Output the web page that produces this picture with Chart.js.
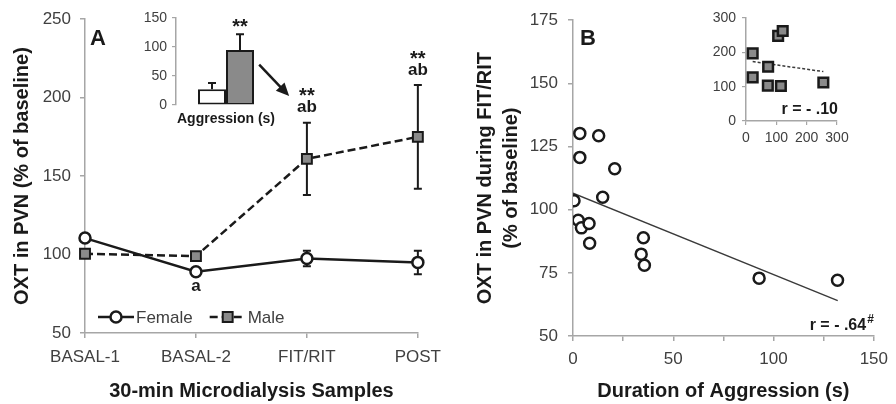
<!DOCTYPE html>
<html>
<head>
<meta charset="utf-8">
<script src="https://cdn.jsdelivr.net/npm/chart.js@4.4.0/dist/chart.umd.min.js"></script>
<style>
  body { margin: 0; background: #fff; width: 896px; height: 404px; position: relative; overflow: hidden; }
  canvas { position: absolute; top: 0; }
</style>
</head>
<body>
<canvas id="cA" width="450" height="404" style="left:0px"></canvas>
<canvas id="cAi" width="170" height="135" style="left:120px"></canvas>
<canvas id="cB" width="446" height="404" style="left:450px"></canvas>
<canvas id="cBi" width="170" height="160" style="left:690px"></canvas>
<script>
// Panel A: OXT in PVN per 30-min sample (% of baseline), mean +/- SEM
const samples = ['BASAL-1', 'BASAL-2', 'FIT/RIT', 'POST'];
const femaleOxt = [110.5, 89, 97.5, 95];
const femaleSem = [2, 2, 5, 7.5];
const maleOxt = [100.5, 99, 161, 175];
const maleSem = [2, 2, 23, 33];
const femaleMarks = ['', 'a', '', ''];
const maleMarks = ['', '', 'ab', 'ab'];
const maleStars = ['', '', '**', '**'];

// Panel A inset: duration of aggression (s)
const aggrGroups = ['Female', 'Male'];
const aggrMean = [27, 95];
const aggrSem = [11, 27];

// Panel B: females, aggression duration vs OXT during FIT/RIT
const femaleAggr = [3.4, 12.8, 3.4, 20.8, 0.5, 14.8, 2.6, 4.2, 8, 8.3, 35.1, 34, 35.6, 92.8, 131.9];
const femaleFitOxt = [130.2, 129.3, 120.7, 116.2, 103.5, 104.9, 95.8, 92.8, 94.5, 86.7, 88.9, 82.4, 78, 72.9, 72.1];
const femaleFitX = [0, 132];
const femaleFitY = [106.5, 64];

// Panel B inset: males
const maleAggr = [22, 22, 73, 72, 115, 106, 121, 255];
const maleFitOxt = [197, 127, 158, 103, 102, 248, 262, 112];
const maleFitX = [22, 255];
const maleFitY = [173, 144];

// arrow from inset to FIT/RIT (panel A data units)
const arrowFrom = [1.57, 221];
const arrowTo = [1.84, 201];

const FONT = 'Arial, "Liberation Sans", Helvetica, sans-serif';
const AXIS = '#a6a6a6';
const INK = '#1a1a1a';
const LABEL = '#404040';
const GREY = '#8a8a8a';

Chart.defaults.font.family = FONT;
Chart.defaults.color = LABEL;
Chart.defaults.animation = false;
Chart.defaults.plugins.legend.display = false;
Chart.defaults.plugins.tooltip.enabled = false;

function text(ctx, s, x, y, font, align, color) {
  ctx.save();
  ctx.font = font;
  ctx.fillStyle = color || INK;
  ctx.textAlign = align || 'center';
  ctx.textBaseline = 'middle';
  ctx.fillText(s, x, y);
  ctx.restore();
}

function marker(ctx, ds, x, y) {
  ctx.save();
  ctx.fillStyle = ds.pointBackgroundColor;
  ctx.strokeStyle = ds.pointBorderColor;
  ctx.lineWidth = ds.pointBorderWidth;
  ctx.beginPath();
  if (ds.pointStyle === 'rect') {
    const h = Math.SQRT1_2 * ds.pointRadius;
    ctx.rect(x - h, y - h, 2 * h, 2 * h);
  } else {
    ctx.arc(x, y, ds.pointRadius, 0, Math.PI * 2);
  }
  ctx.fill();
  ctx.stroke();
  ctx.restore();
}

// error bars from dataset.sem
function drawErrors(chart) {
  const ctx = chart.ctx;
  chart.data.datasets.forEach((ds, i) => {
    if (!ds.sem) return;
    const meta = chart.getDatasetMeta(i);
    const ys = chart.scales[meta.yAxisID];
    meta.data.forEach((el, j) => {
      const top = ys.getPixelForValue(ds.data[j] + ds.sem[j]);
      const bot = ds.upOnly ? ys.getPixelForValue(ds.data[j]) : ys.getPixelForValue(ds.data[j] - ds.sem[j]);
      ctx.save();
      ctx.strokeStyle = INK;
      ctx.lineWidth = 2;
      ctx.beginPath();
      ctx.moveTo(el.x, top); ctx.lineTo(el.x, bot);
      ctx.moveTo(el.x - 4, top); ctx.lineTo(el.x + 4, top);
      if (!ds.upOnly) { ctx.moveTo(el.x - 4, bot); ctx.lineTo(el.x + 4, bot); }
      ctx.stroke();
      ctx.restore();
    });
  });
}
const errorsBelow = { id: 'errorsBelow', beforeDatasetsDraw: drawErrors };
const errorsAbove = { id: 'errorsAbove', afterDatasetsDraw: drawErrors };

const panelANotes = {
  id: 'panelANotes',
  afterDatasetsDraw(chart) {
    const { ctx, chartArea: area, scales: { x, y } } = chart;
    const [female, male] = chart.data.datasets;
    text(ctx, 'A', area.left + 5, area.top + 20, 'bold 22px ' + FONT, 'left');

    samples.forEach((s, i) => {
      const px = x.getPixelForValue(i);
      const top = y.getPixelForValue(maleOxt[i] + maleSem[i]);
      if (maleMarks[i]) text(ctx, maleMarks[i], px, top - 15, 'bold 17px ' + FONT);
      if (maleStars[i]) text(ctx, maleStars[i], px, top - 26, 'bold 20px ' + FONT);
      if (femaleMarks[i]) text(ctx, femaleMarks[i], px, y.getPixelForValue(femaleOxt[i]) + 15, 'bold 17px ' + FONT);
    });

    // arrow
    const x0 = x.getPixelForValue(arrowFrom[0]), y0 = y.getPixelForValue(arrowFrom[1]);
    const x1 = x.getPixelForValue(arrowTo[0]), y1 = y.getPixelForValue(arrowTo[1]);
    const ang = Math.atan2(y1 - y0, x1 - x0);
    ctx.save();
    ctx.strokeStyle = INK; ctx.fillStyle = INK; ctx.lineWidth = 2.5;
    ctx.beginPath();
    ctx.moveTo(x0, y0);
    ctx.lineTo(x1 - 10 * Math.cos(ang), y1 - 10 * Math.sin(ang));
    ctx.stroke();
    ctx.beginPath();
    ctx.moveTo(x1, y1);
    ctx.lineTo(x1 - 13 * Math.cos(ang) + 6 * Math.sin(ang), y1 - 13 * Math.sin(ang) - 6 * Math.cos(ang));
    ctx.lineTo(x1 - 13 * Math.cos(ang) - 6 * Math.sin(ang), y1 - 13 * Math.sin(ang) + 6 * Math.cos(ang));
    ctx.closePath();
    ctx.fill();
    ctx.restore();

    // legend inside plot, bottom left
    let lx = area.left + 13;
    const ly = area.bottom - 16;
    [female, male].forEach(ds => {
      ctx.save();
      ctx.strokeStyle = ds.borderColor; ctx.lineWidth = ds.borderWidth;
      ctx.setLineDash(ds.borderDash || []);
      ctx.beginPath(); ctx.moveTo(lx, ly); ctx.lineTo(lx + 36, ly); ctx.stroke();
      ctx.restore();
      marker(ctx, ds, lx + 18, ly);
      ctx.font = '17px ' + FONT;
      const w = ctx.measureText(ds.label).width;
      text(ctx, ds.label, lx + 38, ly + 1, '17px ' + FONT, 'left', LABEL);
      lx += 38 + w + 17;
    });
  }
};

new Chart(document.getElementById('cA'), {
  type: 'line',
  data: {
    labels: samples,
    datasets: [
      { label: 'Female', data: femaleOxt, sem: femaleSem, borderColor: INK, borderWidth: 2.5,
        pointStyle: 'circle', pointRadius: 5.5, pointBorderWidth: 2.5, pointBackgroundColor: '#fff', pointBorderColor: INK },
      { label: 'Male', data: maleOxt, sem: maleSem, borderColor: INK, borderWidth: 2.5, borderDash: [8, 4],
        pointStyle: 'rect', pointRadius: 7, pointBorderWidth: 2, pointBackgroundColor: GREY, pointBorderColor: INK }
    ]
  },
  options: {
    responsive: false,
    layout: { padding: { top: 14, right: 28 } },
    scales: {
      x: {
        grid: { drawOnChartArea: false, tickLength: 5, color: AXIS, lineWidth: 1.5 },
        border: { color: AXIS, width: 1.5 },
        ticks: { padding: 9, font: { size: 17 }, color: LABEL, maxRotation: 0, autoSkip: false },
        title: { display: true, text: '30-min Microdialysis Samples', color: INK,
                 font: { size: 20, weight: 'bold' }, padding: { top: 0, bottom: 1 } },
        afterFit: s => { s.height = 71; }
      },
      y: {
        min: 50, max: 250,
        grid: { drawOnChartArea: false, tickLength: 5, color: AXIS, lineWidth: 1.5 },
        border: { color: AXIS, width: 1.5 },
        ticks: { stepSize: 50, padding: 9, font: { size: 17 }, color: LABEL },
        title: { display: true, text: 'OXT in PVN (% of baseline)', color: INK,
                 font: { size: 20, weight: 'bold' }, padding: { top: 10, bottom: 0 } },
        afterFit: s => { s.width = 85; }
      }
    }
  },
  plugins: [errorsBelow, panelANotes]
});

new Chart(document.getElementById('cAi'), {
  type: 'bar',
  data: {
    labels: ['Aggression (s)'],
    datasets: aggrGroups.map((g, i) => ({
      label: g, data: [aggrMean[i]], sem: [aggrSem[i]], upOnly: true,
      backgroundColor: i === 0 ? '#fff' : GREY, borderColor: INK, borderWidth: 2, borderSkipped: false
    }))
  },
  options: {
    responsive: false,
    layout: { padding: { top: 18, right: 14 } },
    datasets: { bar: { barPercentage: 1, categoryPercentage: 0.56 } },
    scales: {
      x: {
        grid: { display: false }, border: { display: false }, ticks: { display: false },
        title: { display: true, text: 'Aggression (s)', color: INK,
                 font: { size: 14, weight: 'bold' }, padding: { top: 0, bottom: 7 } },
        afterFit: s => { s.height = 30; }
      },
      y: {
        min: 0, max: 150,
        grid: { drawOnChartArea: false, tickLength: 4, color: AXIS, lineWidth: 1.2 },
        border: { color: AXIS, width: 1.5 },
        ticks: { stepSize: 25, padding: 5, font: { size: 14 }, color: LABEL,
                 callback: v => (v % 50 === 0 ? v : '') },
        afterFit: s => { s.width = 56; }
      }
    }
  },
  plugins: [errorsAbove, {
    id: 'insetStars',
    afterDatasetsDraw(chart) {
      const el = chart.getDatasetMeta(1).data[0];
      const top = chart.scales.y.getPixelForValue(aggrMean[1] + aggrSem[1]);
      text(chart.ctx, '**', el.x, top - 7, 'bold 20px ' + FONT);
    }
  }]
});

new Chart(document.getElementById('cB'), {
  type: 'scatter',
  data: {
    datasets: [
      { label: 'Female', order: 1, data: femaleAggr.map((v, i) => ({ x: v, y: femaleFitOxt[i] })),
        pointStyle: 'circle', pointRadius: 5.5, pointBorderWidth: 2.5, pointBackgroundColor: '#fff', pointBorderColor: INK },
      { type: 'line', label: 'fit', order: 2, data: femaleFitX.map((v, i) => ({ x: v, y: femaleFitY[i] })),
        borderColor: '#3a3a3a', borderWidth: 1.4, pointRadius: 0 }
    ]
  },
  options: {
    responsive: false,
    layout: { padding: { top: 15, right: 16 } },
    scales: {
      x: {
        type: 'linear', min: 0, max: 150,
        grid: { drawOnChartArea: false, tickLength: 5, color: AXIS, lineWidth: 1.5 },
        border: { color: AXIS, width: 1.5 },
        ticks: { stepSize: 25, padding: 8, font: { size: 17 }, color: LABEL, maxRotation: 0,
                 callback: v => (v % 50 === 0 ? v : '') },
        title: { display: true, text: 'Duration of Aggression (s)', color: INK,
                 font: { size: 20, weight: 'bold' }, padding: { top: 0, bottom: 1 } },
        afterFit: s => { s.height = 68; }
      },
      y: {
        min: 50, max: 175,
        grid: { drawOnChartArea: false, tickLength: 5, color: AXIS, lineWidth: 1.5 },
        border: { color: AXIS, width: 1.5 },
        ticks: { stepSize: 25, padding: 10, font: { size: 17 }, color: LABEL },
        title: { display: true, text: ['OXT in PVN during FIT/RIT', '(% of baseline)'], color: INK,
                 font: { size: 20, weight: 'bold', lineHeight: 1.3 }, padding: { top: 22, bottom: 0 } },
        afterFit: s => { s.width = 123; }
      }
    }
  },
  plugins: [{
    id: 'panelBNotes',
    afterDatasetsDraw(chart) {
      const { ctx, chartArea: area } = chart;
      text(ctx, 'B', area.left + 7, area.top + 19, 'bold 22px ' + FONT, 'left');
      ctx.font = 'bold 12px ' + FONT;
      const hw = ctx.measureText('#').width;
      text(ctx, '#', area.right, area.bottom - 16, 'bold 12px ' + FONT, 'right');
      text(ctx, 'r = - .64', area.right - hw - 1, area.bottom - 10, 'bold 16px ' + FONT, 'right');
    }
  }]
});

new Chart(document.getElementById('cBi'), {
  type: 'scatter',
  data: {
    datasets: [
      { label: 'Male', order: 1, data: maleAggr.map((v, i) => ({ x: v, y: maleFitOxt[i] })),
        pointStyle: 'rect', pointRadius: 6.8, pointBorderWidth: 2.5, pointBackgroundColor: GREY, pointBorderColor: INK },
      { type: 'line', label: 'fit', order: 2, data: maleFitX.map((v, i) => ({ x: v, y: maleFitY[i] })),
        borderColor: '#3a3a3a', borderWidth: 1.5, borderDash: [3, 2], pointRadius: 0 }
    ]
  },
  options: {
    responsive: false,
    layout: { padding: { top: 18, right: 23 } },
    scales: {
      x: {
        type: 'linear', min: 0, max: 300,
        grid: { drawOnChartArea: false, tickLength: 4, color: AXIS, lineWidth: 1.2 },
        border: { color: AXIS, width: 1.5 },
        ticks: { stepSize: 50, padding: 5, font: { size: 14 }, color: LABEL, maxRotation: 0,
                 callback: v => (v % 100 === 0 ? v : '') },
        afterFit: s => { s.height = 39; }
      },
      y: {
        min: 0, max: 300,
        grid: { drawOnChartArea: false, tickLength: 4, color: AXIS, lineWidth: 1.2 },
        border: { color: AXIS, width: 1.5 },
        ticks: { stepSize: 50, padding: 6, font: { size: 14 }, color: LABEL,
                 callback: v => (v % 100 === 0 ? v : '') },
        afterFit: s => { s.width = 56; }
      }
    }
  },
  plugins: [{
    id: 'insetBNotes',
    afterDatasetsDraw(chart) {
      const { ctx, chartArea: area } = chart;
      text(ctx, 'r = - .10', area.right + 1, area.bottom - 11, 'bold 16px ' + FONT, 'right');
    }
  }]
});
</script>
</body>
</html>
